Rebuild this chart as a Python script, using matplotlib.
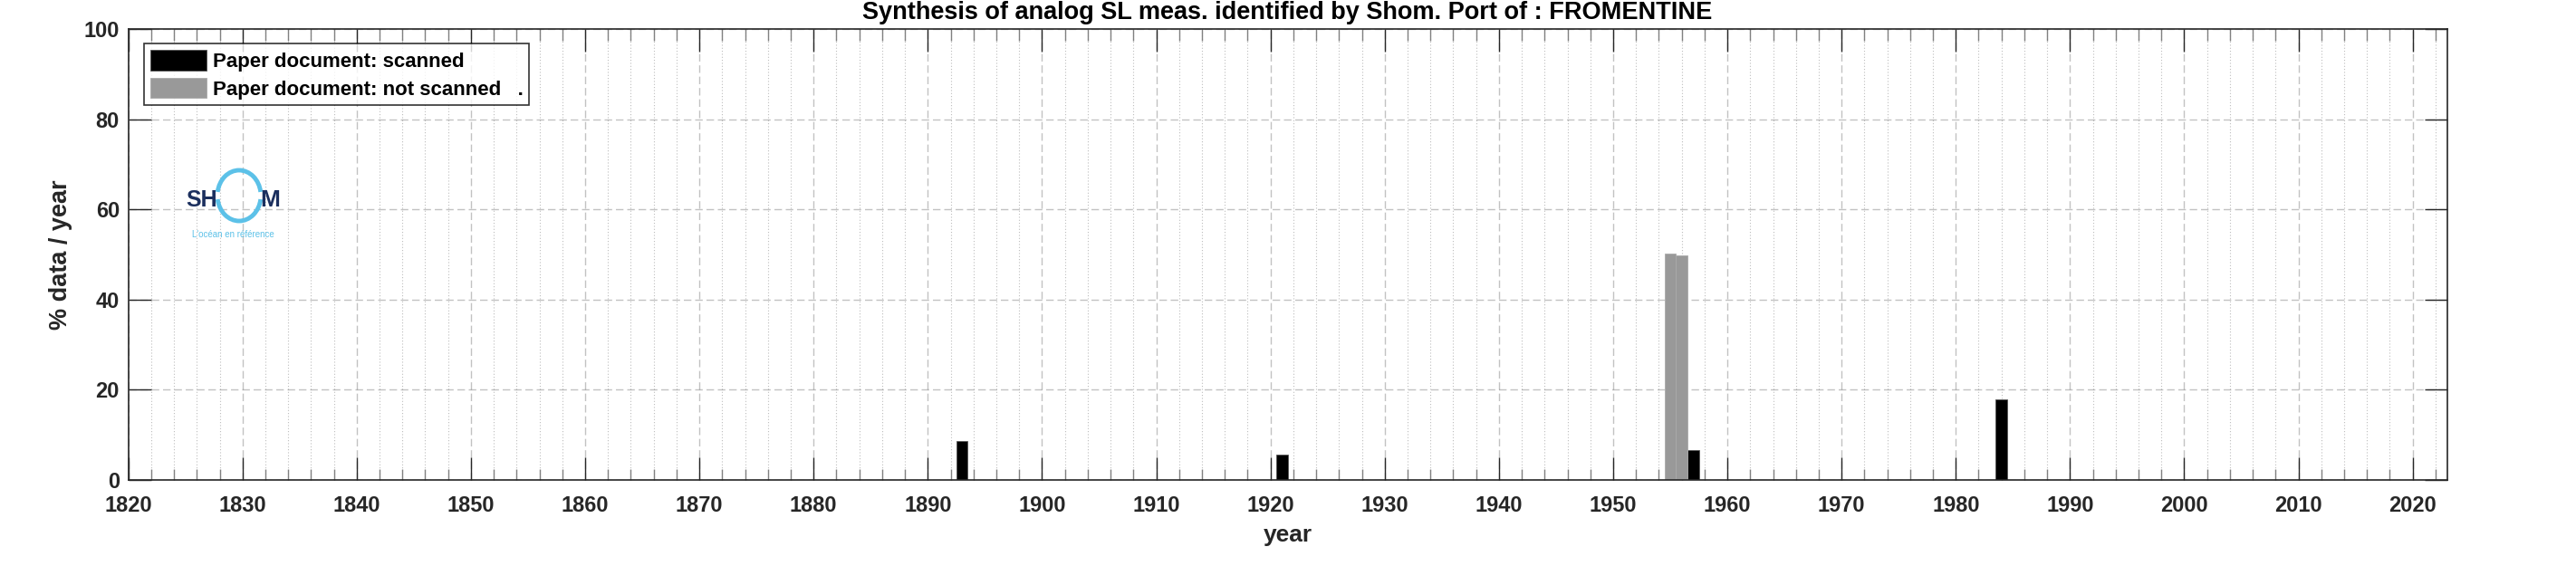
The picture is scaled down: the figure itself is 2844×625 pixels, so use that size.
import numpy as np
import matplotlib
matplotlib.use("Agg")
import matplotlib.pyplot as plt
from matplotlib.patches import Arc
from matplotlib.ticker import MultipleLocator

# data (percent of the year covered)
years_scanned = [1893, 1921, 1957, 1984]
pct_scanned = [8.7, 5.7, 6.7, 17.9]
years_not_scanned = [1955, 1956]
pct_not_scanned = [50.2, 49.8]

label_scanned = "Paper document: scanned"
label_not_scanned = "Paper document: not scanned   ."
title = "Synthesis of analog SL meas. identified by Shom. Port of : FROMENTINE"

plt.rcParams['font.family'] = ['Liberation Sans', 'DejaVu Sans']
plt.rcParams['font.weight'] = 'bold'

dark = '#262626'

fig = plt.figure(figsize=(28.44, 6.25), dpi=100)
ax = fig.add_axes([0.0498, 0.152, 0.9001, 0.7968])

ax.bar(years_scanned, pct_scanned, width=1.0, color='black',
       edgecolor='#555555', linewidth=0.6, label=label_scanned)
ax.bar(years_not_scanned, pct_not_scanned, width=1.0, color='#999999',
       edgecolor='#aaaaaa', linewidth=0.6, label=label_not_scanned)

ax.set_xlim(1820, 2023)
ax.set_ylim(0, 100)
ax.xaxis.set_major_locator(MultipleLocator(10))
ax.xaxis.set_minor_locator(MultipleLocator(2))
ax.yaxis.set_major_locator(MultipleLocator(20))

ax.set_axisbelow(True)
ax.grid(which='major', color=dark, alpha=0.28, linestyle=(0, (6, 3)), linewidth=1.0)
ax.grid(which='minor', axis='x', color=dark, alpha=0.3, linestyle=(0, (1, 2)), linewidth=0.8)

ax.tick_params(which='both', direction='in', top=True, right=True, colors=dark,
               labelsize=17)
ax.tick_params(which='major', length=18, width=1.0)
ax.tick_params(which='minor', length=9, width=1.0, color='#808080')
ax.tick_params(axis='x', pad=12)
ax.tick_params(axis='y', pad=7)
for s in ax.spines.values():
    s.set_color(dark)
    s.set_linewidth(1.2)

ax.set_xlabel("year", fontsize=19, fontweight='bold', color=dark, labelpad=7)
ax.set_ylabel("% data / year", fontsize=19.5, fontweight='bold', color=dark, labelpad=9)
ax.set_title(title, fontsize=19.5, fontweight='bold', color='black', pad=8)

leg = ax.legend(loc='upper left', bbox_to_anchor=(0.0068, 0.967), fontsize=16,
                frameon=True, fancybox=False, borderaxespad=0,
                handlelength=2.8, handleheight=1.2, handletextpad=0.3,
                labelspacing=0.3, borderpad=0.3)
leg.get_frame().set_edgecolor('black')
leg.get_frame().set_linewidth(1.2)

# Shom logo drawn with text and two arcs
W, H = 2844.0, 625.0
navy = '#1b2f5e'
sky = '#5cc1e8'
fig.text(205 / W, 1 - 228 / H, "SH", fontsize=18, fontweight='bold', color=navy,
         ha='left', va='baseline')
fig.text(309 / W, 1 - 228 / H, "M", fontsize=19, fontweight='bold', color=navy,
         ha='right', va='baseline')
for a0, a1 in [(38, 142), (218, 322)]:
    fig.add_artist(Arc((264 / W, 1 - 216 / H), 48 / W, 56 / H, theta1=a0, theta2=a1,
                       transform=fig.transFigure, color=sky, linewidth=3.5))
fig.text(257 / W, 1 - 259 / H, "L'océan en référence", fontsize=7, fontweight='normal',
         color=sky, ha='center', va='center')

fig.savefig("out.png", dpi=100)
